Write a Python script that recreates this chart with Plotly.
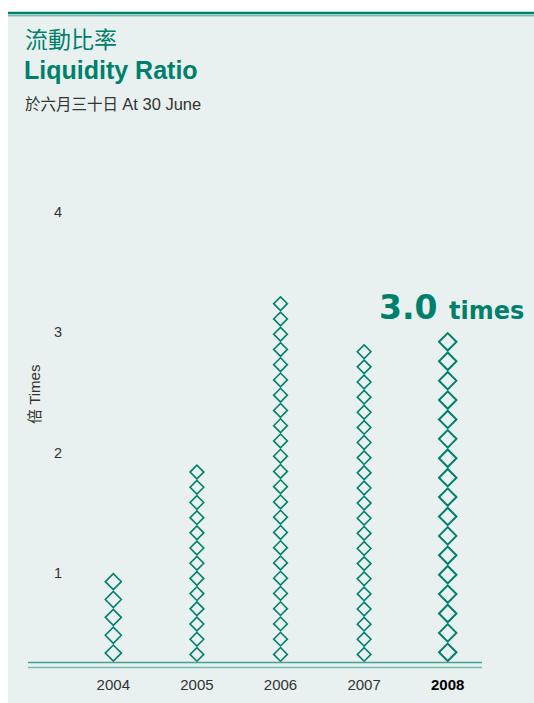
import plotly.graph_objects as go

# ---------------- data ----------------
years = ["2004", "2005", "2006", "2007", "2008"]
ratios = [1.0, 1.9, 3.3, 2.9, 3.0]
diamond_counts = [5, 13, 24, 21, 17]
y_tick_values = [1, 2, 3, 4]
highlight_value = "3.0"
highlight_unit = "times"

# ---------------- style ----------------
TEAL = "#00806c"
TEAL_LIGHT = "#74bfb2"
TEAL_MID = "#4a9f92"
PANEL = "#e8f1ef"
GRAY = "#333333"
LATIN = "Liberation Sans, Arial, Noto Sans CJK TC, sans-serif"
CJK = "Noto Sans CJK TC, Noto Sans CJK SC, sans-serif"

W, H = 534, 703
L, R, T, B = 70, 52, 176, 41
plot_w = W - L - R
plot_h = H - T - B
px_per_unit = 120.3
y_min = 0.258
y_max = y_min + plot_h / px_per_unit
x_min, x_max = -0.518, 4.41


def pxx(p):
    return (p - L) / plot_w


def pxy(p):
    return (H - B - p) / plot_h


fig = go.Figure()

for i, (yr, v, n) in enumerate(zip(years, ratios, diamond_counts)):
    h = (v - y_min) / n
    ys = [y_min + h * (k + 0.5) for k in range(n)]
    spacing_px = h * px_per_unit
    size = spacing_px / 1.3 * 0.9
    last = i == len(years) - 1
    fig.add_trace(go.Scatter(
        x=[i] * n, y=ys, mode="markers",
        marker=dict(symbol="diamond-open", size=size, color=TEAL,
                    line=dict(width=2 if last else 1.6, color=TEAL)),
        showlegend=False, hoverinfo="skip", cliponaxis=False,
    ))

ticktext = [y for y in years[:-1]] + [
    "<span style='color:#000000'><b>%s</b></span>" % years[-1]]

fig.update_layout(
    width=W, height=H,
    margin=dict(l=L, r=R, t=T, b=B, pad=0, autoexpand=False),
    paper_bgcolor="white",
    plot_bgcolor="rgba(0,0,0,0)",
    xaxis=dict(range=[x_min, x_max], tickvals=list(range(len(years))),
               ticktext=ticktext, showgrid=False, zeroline=False,
               showline=False, ticks="", ticklabelstandoff=12,
               automargin=False,
               tickfont=dict(family=LATIN, size=15, color=GRAY),
               fixedrange=True),
    yaxis=dict(range=[y_min, y_max], tickvals=y_tick_values,
               showgrid=False, zeroline=False, showline=False, ticks="",
               ticklabelstandoff=7, automargin=False,
               tickfont=dict(family=LATIN, size=14.5, color=GRAY),
               fixedrange=True),
    shapes=[
        dict(type="rect", xref="paper", yref="paper", layer="below",
             x0=pxx(8), x1=pxx(W + 2), y0=pxy(H + 2), y1=pxy(12),
             fillcolor=PANEL, line=dict(width=0)),
        dict(type="line", xref="paper", yref="paper",
             x0=pxx(8), x1=pxx(W + 2), y0=pxy(13), y1=pxy(13),
             line=dict(color=TEAL, width=2.5)),
        dict(type="line", xref="paper", yref="paper",
             x0=pxx(8), x1=pxx(W + 2), y0=pxy(15.8), y1=pxy(15.8),
             line=dict(color=TEAL_MID, width=1)),
        dict(type="line", xref="paper", yref="paper",
             x0=pxx(28), x1=pxx(482), y0=pxy(662.5), y1=pxy(662.5),
             line=dict(color=TEAL_MID, width=1.5)),
        dict(type="line", xref="paper", yref="paper",
             x0=pxx(28), x1=pxx(482), y0=pxy(667.5), y1=pxy(667.5),
             line=dict(color=TEAL_LIGHT, width=1.5)),
    ],
    annotations=[
        dict(text="流動比率", xref="paper", yref="paper", x=pxx(23), y=pxy(38),
             xanchor="left", yanchor="middle", showarrow=False,
             font=dict(family=CJK, size=23, color=TEAL)),
        dict(text="<b>Liquidity Ratio</b>", xref="paper", yref="paper",
             x=pxx(22), y=pxy(70), xanchor="left", yanchor="middle",
             showarrow=False, font=dict(family=LATIN, size=25, color=TEAL)),
        dict(text="於六月三十日 <span style='font-size:16.5px'>At 30 June</span>",
             xref="paper", yref="paper",
             x=pxx(23), y=pxy(104), xanchor="left", yanchor="middle",
             showarrow=False, font=dict(family=LATIN, size=15.5, color=GRAY)),
        dict(text="倍 Times", xref="paper", yref="paper", x=pxx(34), y=pxy(395),
             xanchor="center", yanchor="middle", textangle=-90, showarrow=False,
             font=dict(family=LATIN, size=15, color=GRAY)),
        dict(text="<b><span style='font-size:33px'>%s</span> "
                  "<span style='font-size:24px'>%s</span></b>"
                  % (highlight_value, highlight_unit),
             x=len(years) - 1, y=ratios[-1], xref="x", yref="y",
             xanchor="center", yanchor="bottom", xshift=4, yshift=3,
             showarrow=False,
             font=dict(family="DejaVu Sans, sans-serif", size=33, color=TEAL)),
    ],
)

fig.write_html("out.html", config={"displayModeBar": False})
